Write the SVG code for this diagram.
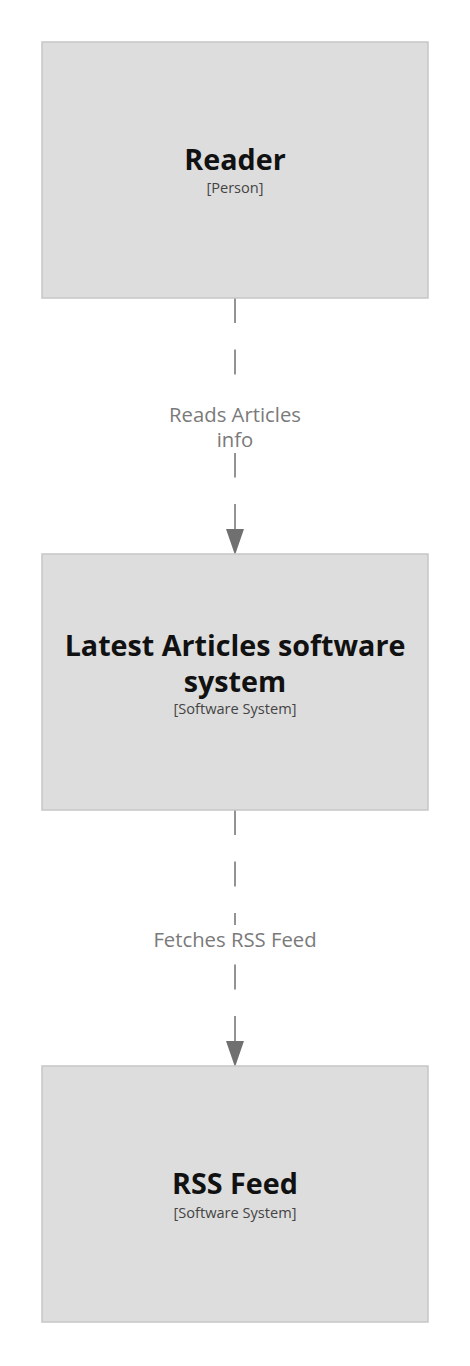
<svg xmlns="http://www.w3.org/2000/svg" width="470" height="1366" viewBox="0 0 470 1366">
<style>
.box{fill:#dddddd;stroke:#c6c6c6;stroke-width:1.5}
.title{font-family:"Open Sans",sans-serif;font-weight:bold;font-size:28.7px;fill:#111111;text-anchor:middle}
.sub{font-family:"Open Sans",sans-serif;font-size:14.6px;fill:#444444;text-anchor:middle}
.edge{stroke:#707070;stroke-width:1.5;stroke-dasharray:25 26.5;fill:none}
.head{fill:#707070}
.lbl{font-family:"Open Sans",sans-serif;font-size:20.3px;fill:#7a7a7a;text-anchor:middle}
.lblbg{fill:#ffffff}
</style>
<rect width="470" height="1366" fill="#ffffff"/>
<g id="edges">
<g id="edge1">
<line class="edge" x1="235" y1="298" x2="235" y2="529"/>
<path class="head" d="M226,529 L244,529 L235,555 Z"/>
<rect class="lblbg" x="160" y="399" width="150" height="54"/>
<text class="lbl" x="235" y="422">Reads Articles</text>
<text class="lbl" x="235" y="447">info</text>
</g>
<g id="edge2">
<line class="edge" x1="235" y1="810" x2="235" y2="1041"/>
<path class="head" d="M226,1041 L244,1041 L235,1067 Z"/>
<rect class="lblbg" x="145" y="925" width="180" height="38"/>
<text class="lbl" x="235" y="947">Fetches RSS Feed</text>
</g>
</g>
<g id="reader">
<rect class="box" x="42" y="42" width="386" height="256"/>
<text class="title" x="235" y="170">Reader</text>
<text class="sub" x="235" y="193">[Person]</text>
</g>
<g id="latest">
<rect class="box" x="42" y="554" width="386" height="256"/>
<text class="title" x="235" y="656">Latest Articles software</text>
<text class="title" x="235" y="692">system</text>
<text class="sub" x="235" y="714">[Software System]</text>
</g>
<g id="rss">
<rect class="box" x="42" y="1066" width="386" height="256"/>
<text class="title" x="235" y="1194">RSS Feed</text>
<text class="sub" x="235" y="1218">[Software System]</text>
</g>
</svg>
